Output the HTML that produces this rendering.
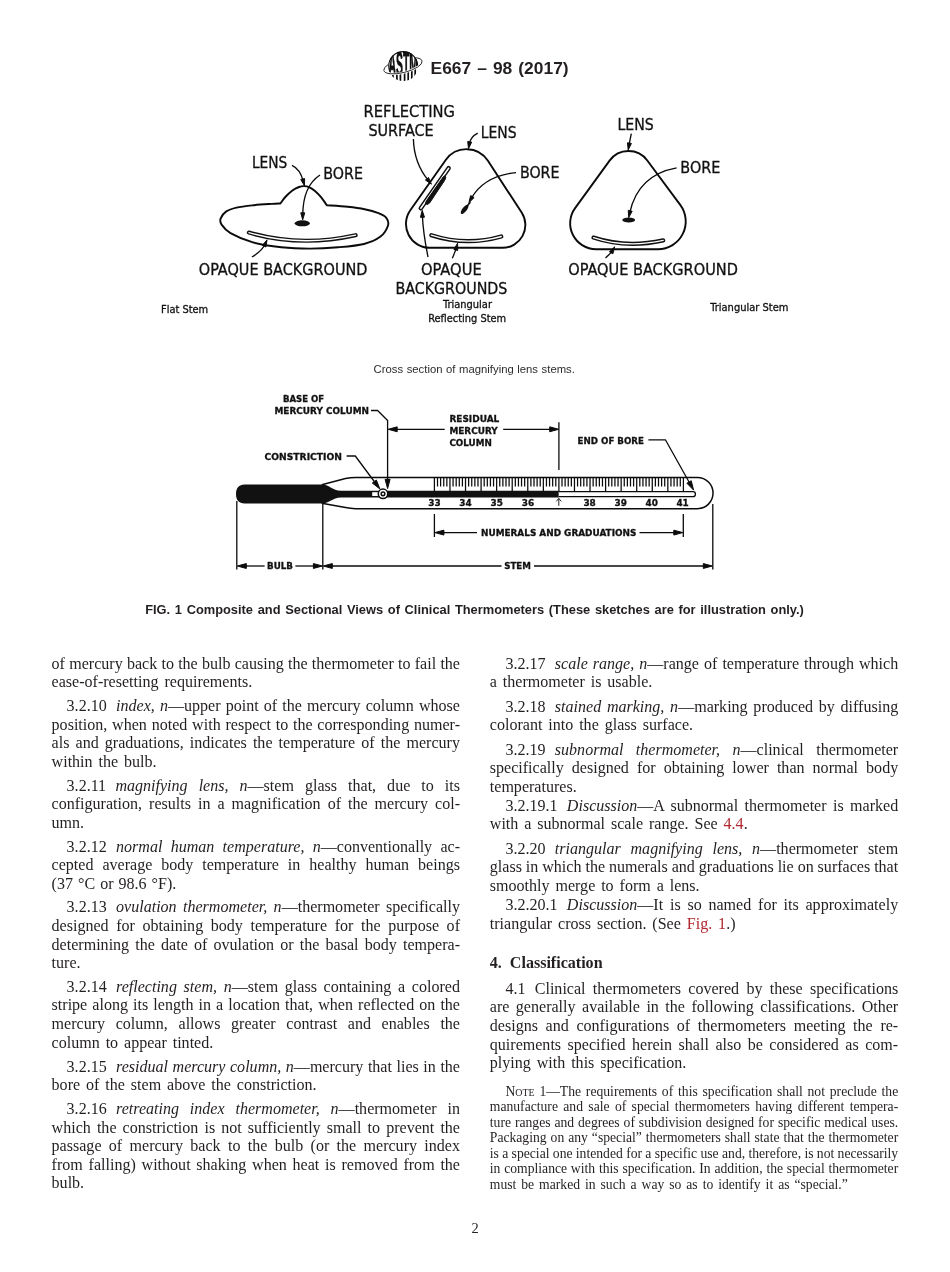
<!DOCTYPE html>
<html lang="en"><head><meta charset="utf-8"><title>E667 – 98 (2017)</title>
<style>
html,body{margin:0;padding:0;background:#fff;}
body{width:950px;height:1272px;position:relative;overflow:hidden;font-family:"Liberation Serif",serif;color:#231f20;}
#pg{position:absolute;left:0;top:0;width:950px;height:1272px;will-change:transform;}
.l{position:absolute;white-space:nowrap;}
.b{font-size:16.06px;line-height:19px;}
.n{font-size:13.65px;line-height:15px;}
.sc{font-size:0.73em;}
.g{display:inline-block;width:9.3px;}
.l a{color:#b0282e;text-decoration:none;}
.h{position:absolute;white-space:nowrap;font-family:"Liberation Sans",sans-serif;font-weight:bold;}
.s{position:absolute;white-space:nowrap;font-family:"Liberation Sans",sans-serif;}
svg{position:absolute;left:0;top:0;}
svg text{font-family:"DejaVu Sans Condensed","DejaVu Sans",sans-serif;fill:#111;stroke:#111;stroke-width:0.3px;}
svg .tb{font-family:"DejaVu Sans","Liberation Sans",sans-serif;font-weight:bold;}
</style></head><body>
<div id="pg">
<svg width="950" height="1272" viewBox="0 0 950 1272" fill="#0b0b0b" stroke="#0b0b0b" stroke-linejoin="round">
<defs><clipPath id="gl"><circle cx="403.2" cy="66.1" r="14.9"/></clipPath><clipPath id="up"><ellipse cx="402.95" cy="65.75" rx="19.7" ry="6.8" transform="rotate(-14 402.95 65.75)"/><path d="M370 73.96 L440 56.51 L440 30 L370 30Z"/></clipPath><clipPath id="fr"><path d="M370 73.96 L440 56.51 L440 95 L370 95Z"/></clipPath></defs>
<ellipse cx="402.95" cy="65.75" rx="19.7" ry="6.8" transform="rotate(-14 402.95 65.75)" fill="none" stroke-width="0.8"/>
<circle cx="403.2" cy="66.1" r="15.2" fill="#fff" stroke="none"/>
<g clip-path="url(#gl)">
<path d="M392.9 62V82M396.9 62V82M400.4 62V82M404.6 62V82M408.2 62V82M411.8 62V82M415.2 62V82" stroke-width="1.7" fill="none"/>
<g clip-path="url(#up)"><rect x="380" y="45" width="46" height="40" fill="#fff" stroke="none"/>
<text x="0" y="0" font-size="12" textLength="29.6" lengthAdjust="spacingAndGlyphs" transform="translate(388.4 75.8) scale(1 2.95)" stroke-width="0.2" style="font-family:'Liberation Sans',sans-serif;font-weight:bold" >ASTM</text>
</g></g>
<g clip-path="url(#up)"><circle cx="403.2" cy="66.1" r="14.5" fill="none" stroke-width="1.1"/></g>
<g clip-path="url(#fr)"><ellipse cx="402.95" cy="65.75" rx="19.7" ry="6.8" transform="rotate(-14 402.95 65.75)" fill="none" stroke="#fff" stroke-width="2.4"/><ellipse cx="402.95" cy="65.75" rx="19.7" ry="6.8" transform="rotate(-14 402.95 65.75)" fill="none" stroke-width="0.8"/></g>
<path d="M280.40 203.50 C281.22 202.42 283.30 199.18 285.30 197.00 C287.30 194.82 290.12 192.07 292.40 190.40 C294.68 188.73 297.07 187.72 299.00 187.00 C300.93 186.28 302.25 186.05 304.00 186.10 C305.75 186.15 307.67 186.48 309.50 187.30 C311.33 188.12 313.08 189.35 315.00 191.00 C316.92 192.65 319.03 194.82 321.00 197.20 C322.97 199.58 325.83 203.95 326.80 205.30 L326.80 205.30 C330.27 205.55 341.30 206.15 347.60 206.80 C353.90 207.45 359.45 208.13 364.60 209.20 C369.75 210.27 374.88 211.77 378.50 213.20 C382.12 214.63 384.72 215.75 386.30 217.80 C387.88 219.85 388.97 222.37 388.00 225.50 C387.03 228.63 384.50 233.52 380.50 236.60 C376.50 239.68 371.05 242.22 364.00 244.00 C356.95 245.78 347.25 246.53 338.20 247.30 C329.15 248.07 319.18 248.62 309.70 248.60 C300.22 248.58 290.77 248.23 281.30 247.20 C271.83 246.17 261.37 244.73 252.90 242.40 C244.43 240.07 235.72 236.17 230.50 233.20 C225.28 230.23 223.25 227.03 221.60 224.60 C219.95 222.17 219.87 220.77 220.60 218.60 C221.33 216.43 223.35 213.43 226.00 211.60 C228.65 209.77 232.02 208.65 236.50 207.60 C240.98 206.55 247.02 205.92 252.90 205.30 C258.78 204.68 267.22 204.20 271.80 203.90 C276.38 203.60 278.97 203.57 280.40 203.50Z" fill="none" stroke-width="1.9"/>
<ellipse cx="302.3" cy="223.3" rx="7.6" ry="3.0" fill="#111" stroke="none"/>
<path d="M248.90 232.60 Q300.00 247.50 355.60 235.20" fill="none" stroke="#111" stroke-width="4.20" stroke-linecap="round"/><path d="M248.90 232.60 Q300.00 247.50 355.60 235.20" fill="none" stroke="#fff" stroke-width="1.30" stroke-linecap="round"/>
<text x="251.90" y="168.00" font-size="15.90" textLength="35.40" lengthAdjust="spacingAndGlyphs">LENS</text>
<text x="323.30" y="178.70" font-size="15.90" textLength="39.60" lengthAdjust="spacingAndGlyphs">BORE</text>
<text x="198.80" y="274.80" font-size="15.90" textLength="168.70" lengthAdjust="spacingAndGlyphs">OPAQUE BACKGROUND</text>
<path d="M292.00 165.40 Q300.00 169.00 303.23 181.07" fill="none" stroke-width="1.35"/><polygon points="304.50,185.80 300.76,179.56 304.62,178.52"/>
<path d="M320.00 175.00 Q303.00 186.00 302.74 214.90" fill="none" stroke-width="1.35"/><polygon points="302.70,219.80 300.76,212.78 304.76,212.82"/>
<path d="M251.90 257.00 Q262.00 251.00 265.00 244.27" fill="none" stroke-width="1.35"/><polygon points="267.00,239.80 265.97,247.01 262.32,245.38"/>
<text x="161.00" y="313.20" font-size="10.90" textLength="47.20" lengthAdjust="spacingAndGlyphs">Flat Stem</text>
<path d="M445.72 159.99 A25.50 25.50 0 0 1 487.94 160.76 L521.66 212.56 A22.80 22.80 0 0 1 502.55 247.80 L429.76 247.80 A23.80 23.80 0 0 1 410.30 210.30Z" fill="none" stroke-width="1.9"/>
<path d="M448.6 168.2 L420.8 208.2" fill="none" stroke="#111" stroke-width="4.5" stroke-linecap="round"/><path d="M448.6 168.2 L420.8 208.2" fill="none" stroke="#fff" stroke-width="1.5" stroke-linecap="round"/>
<path d="M445.3 176.2 Q446.6 177.2 444.4 180.8 L429.6 203 Q427.4 205.4 425.6 203.8 Q425.2 203 426.6 200.6 L443.4 176.6 Q444.5 175.6 445.3 176.2Z" fill="#111" stroke="#111" stroke-width="1.0" stroke-linejoin="round"/>
<ellipse cx="464.6" cy="209.3" rx="5.6" ry="2.2" transform="rotate(-52 464.6 209.3)" fill="#111" stroke="none"/>
<path d="M466 207.5 L470 202.5" stroke-width="1.6" stroke-linecap="round"/>
<path d="M431.30 235.20 Q466.00 246.50 501.30 236.50" fill="none" stroke="#111" stroke-width="4.20" stroke-linecap="round"/><path d="M431.30 235.20 Q466.00 246.50 501.30 236.50" fill="none" stroke="#fff" stroke-width="1.30" stroke-linecap="round"/>
<text x="363.60" y="116.50" font-size="15.90" textLength="91.40" lengthAdjust="spacingAndGlyphs">REFLECTING</text>
<text x="368.40" y="136.00" font-size="15.90" textLength="65.30" lengthAdjust="spacingAndGlyphs">SURFACE</text>
<text x="480.80" y="137.80" font-size="15.90" textLength="35.80" lengthAdjust="spacingAndGlyphs">LENS</text>
<text x="519.90" y="177.90" font-size="15.90" textLength="39.60" lengthAdjust="spacingAndGlyphs">BORE</text>
<text x="421.00" y="274.50" font-size="15.90" textLength="60.70" lengthAdjust="spacingAndGlyphs">OPAQUE</text>
<text x="395.50" y="293.70" font-size="15.90" textLength="111.90" lengthAdjust="spacingAndGlyphs">BACKGROUNDS</text>
<text x="443.00" y="307.60" font-size="10.90" textLength="49.00" lengthAdjust="spacingAndGlyphs">Triangular</text>
<text x="428.20" y="321.50" font-size="10.90" textLength="78.00" lengthAdjust="spacingAndGlyphs">Reflecting Stem</text>
<path d="M413.40 139.00 Q414.00 163.00 428.29 180.41" fill="none" stroke-width="1.35"/><polygon points="431.40,184.20 425.41,180.06 428.50,177.52"/>
<path d="M477.70 133.20 Q470.50 137.00 469.33 143.87" fill="none" stroke-width="1.35"/><polygon points="468.50,148.70 467.71,141.46 471.65,142.14"/>
<path d="M516.00 172.60 Q484.00 176.00 471.31 198.43" fill="none" stroke-width="1.35"/><polygon points="468.90,202.70 470.61,195.62 474.09,197.59"/>
<path d="M428.00 257.00 Q423.00 232.00 422.38 215.20" fill="none" stroke-width="1.35"/><polygon points="422.20,210.30 424.46,217.22 420.46,217.37"/>
<path d="M452.30 258.30 Q455.50 251.00 456.33 247.93" fill="none" stroke-width="1.35"/><polygon points="457.60,243.20 457.71,250.48 453.85,249.44"/>
<path d="M609.58 160.65 A23.40 23.40 0 0 1 647.29 160.46 L680.24 204.82 A27.80 27.80 0 0 1 657.92 249.20 L596.05 249.20 A25.90 25.90 0 0 1 575.10 208.07Z" fill="none" stroke-width="1.9"/>
<ellipse cx="628.7" cy="220.1" rx="6.4" ry="2.5" fill="#111" stroke="none"/>
<path d="M593.50 237.60 Q626.00 248.50 663.20 240.40" fill="none" stroke="#111" stroke-width="4.20" stroke-linecap="round"/><path d="M593.50 237.60 Q626.00 248.50 663.20 240.40" fill="none" stroke="#fff" stroke-width="1.30" stroke-linecap="round"/>
<text x="617.40" y="130.30" font-size="15.90" textLength="36.30" lengthAdjust="spacingAndGlyphs">LENS</text>
<text x="680.30" y="172.90" font-size="15.90" textLength="40.00" lengthAdjust="spacingAndGlyphs">BORE</text>
<text x="568.20" y="274.50" font-size="15.90" textLength="169.70" lengthAdjust="spacingAndGlyphs">OPAQUE BACKGROUND</text>
<text x="710.30" y="310.50" font-size="10.90" textLength="78.10" lengthAdjust="spacingAndGlyphs">Triangular Stem</text>
<path d="M631.30 133.70 Q630.00 140.00 629.07 145.18" fill="none" stroke-width="1.35"/><polygon points="628.20,150.00 627.47,142.76 631.41,143.47"/>
<path d="M676.60 167.90 Q638.00 175.00 629.75 212.81" fill="none" stroke-width="1.35"/><polygon points="628.70,217.60 628.24,210.33 632.15,211.19"/>
<path d="M605.50 257.90 Q611.00 253.00 612.19 251.01" fill="none" stroke-width="1.35"/><polygon points="614.70,246.80 612.83,253.84 609.40,251.79"/>
<path d="M244.5 484.50 H321.8 C330 484.50 332 490.80 341 490.80 H558.8 V497.50 H341 C332 497.50 330 503.50 321.8 503.50 H244.5 C239 503.50 236 500 236 494.00 C236 488 239 484.50 244.5 484.50Z" fill="#111" stroke="none"/>
<path d="M321.8 484.7 L345.5 478.6 Q350.5 477.4 355.5 477.4 H697.4 A15.65 15.65 0 0 1 697.4 508.7 H355.5 Q350.5 508.7 345.5 507.6 L321.8 503.3" fill="none" stroke-width="1.5"/>
<path d="M558.8 491.7 H693 A2.45 2.45 0 0 1 693 496.6 H558.8" fill="#fff" stroke-width="1.3"/>
<rect x="372.2" y="492.2" width="6.6" height="3.8" fill="#fff" stroke="none"/>
<circle cx="383" cy="493.8" r="4.75" fill="#fff" stroke-width="1.5"/>
<circle cx="383" cy="493.8" r="1.85" fill="#fff" stroke-width="1.45"/>
<path d="M434.40 477.6V491.4M437.51 477.8V486.4M440.62 477.8V486.4M443.74 477.8V486.4M446.85 477.8V486.4M449.96 477.6V491.4M453.07 477.8V486.4M456.19 477.8V486.4M459.30 477.8V486.4M462.41 477.8V486.4M465.52 477.6V491.4M468.64 477.8V486.4M471.75 477.8V486.4M474.86 477.8V486.4M477.97 477.8V486.4M481.09 477.6V491.4M484.20 477.8V486.4M487.31 477.8V486.4M490.42 477.8V486.4M493.54 477.8V486.4M496.65 477.6V491.4M499.76 477.8V486.4M502.88 477.8V486.4M505.99 477.8V486.4M509.10 477.8V486.4M512.21 477.6V491.4M515.32 477.8V486.4M518.44 477.8V486.4M521.55 477.8V486.4M524.66 477.8V486.4M527.77 477.6V491.4M530.89 477.8V486.4M534.00 477.8V486.4M537.11 477.8V486.4M540.22 477.8V486.4M543.34 477.6V491.4M546.45 477.8V486.4M549.56 477.8V486.4M552.67 477.8V486.4M555.79 477.8V486.4M558.90 477.6V491.4M562.01 477.8V486.4M565.12 477.8V486.4M568.24 477.8V486.4M571.35 477.8V486.4M574.46 477.6V491.4M577.57 477.8V486.4M580.69 477.8V486.4M583.80 477.8V486.4M586.91 477.8V486.4M590.02 477.6V491.4M593.14 477.8V486.4M596.25 477.8V486.4M599.36 477.8V486.4M602.47 477.8V486.4M605.59 477.6V491.4M608.70 477.8V486.4M611.81 477.8V486.4M614.92 477.8V486.4M618.04 477.8V486.4M621.15 477.6V491.4M624.26 477.8V486.4M627.38 477.8V486.4M630.49 477.8V486.4M633.60 477.8V486.4M636.71 477.6V491.4M639.82 477.8V486.4M642.94 477.8V486.4M646.05 477.8V486.4M649.16 477.8V486.4M652.27 477.6V491.4M655.39 477.8V486.4M658.50 477.8V486.4M661.61 477.8V486.4M664.72 477.8V486.4M667.84 477.6V491.4M670.95 477.8V486.4M674.06 477.8V486.4M677.17 477.8V486.4M680.29 477.8V486.4M683.40 477.6V491.4" stroke-width="1.25" fill="none"/>
<text x="428.30" y="506.40" font-size="9.40" textLength="12.40" lengthAdjust="spacingAndGlyphs" class="tb">33</text>
<text x="459.30" y="506.40" font-size="9.40" textLength="12.40" lengthAdjust="spacingAndGlyphs" class="tb">34</text>
<text x="490.50" y="506.40" font-size="9.40" textLength="12.40" lengthAdjust="spacingAndGlyphs" class="tb">35</text>
<text x="521.80" y="506.40" font-size="9.40" textLength="12.40" lengthAdjust="spacingAndGlyphs" class="tb">36</text>
<text x="583.40" y="506.40" font-size="9.40" textLength="12.40" lengthAdjust="spacingAndGlyphs" class="tb">38</text>
<text x="614.50" y="506.40" font-size="9.40" textLength="12.40" lengthAdjust="spacingAndGlyphs" class="tb">39</text>
<text x="645.50" y="506.40" font-size="9.40" textLength="12.40" lengthAdjust="spacingAndGlyphs" class="tb">40</text>
<text x="676.40" y="506.40" font-size="9.40" textLength="12.40" lengthAdjust="spacingAndGlyphs" class="tb">41</text>
<path d="M558.8 505.8V498.6M556.3 501.4L558.8 498.4L561.3 501.4" fill="none" stroke-width="0.9"/>
<text x="282.90" y="402.30" font-size="8.90" textLength="41.30" lengthAdjust="spacingAndGlyphs" class="tb">BASE OF</text>
<text x="274.50" y="414.00" font-size="8.90" textLength="94.50" lengthAdjust="spacingAndGlyphs" class="tb">MERCURY COLUMN</text>
<text x="264.50" y="459.70" font-size="8.90" textLength="77.50" lengthAdjust="spacingAndGlyphs" class="tb">CONSTRICTION</text>
<text x="449.40" y="421.90" font-size="8.90" textLength="49.90" lengthAdjust="spacingAndGlyphs" class="tb">RESIDUAL</text>
<text x="449.40" y="433.70" font-size="8.90" textLength="48.30" lengthAdjust="spacingAndGlyphs" class="tb">MERCURY</text>
<text x="449.40" y="445.60" font-size="8.90" textLength="42.40" lengthAdjust="spacingAndGlyphs" class="tb">COLUMN</text>
<text x="577.60" y="444.00" font-size="8.90" textLength="66.40" lengthAdjust="spacingAndGlyphs" class="tb">END OF BORE</text>
<text x="481.00" y="535.50" font-size="8.90" textLength="155.30" lengthAdjust="spacingAndGlyphs" class="tb">NUMERALS AND GRADUATIONS</text>
<text x="267.00" y="569.20" font-size="8.90" textLength="25.90" lengthAdjust="spacingAndGlyphs" class="tb">BULB</text>
<text x="504.20" y="569.20" font-size="8.90" textLength="26.70" lengthAdjust="spacingAndGlyphs" class="tb">STEM</text>
<path d="M371 410.5 H377.6 L387.6 420.5 V483" fill="none" stroke-width="1.3"/><polygon points="387.60,488.60 385.10,479.30 390.10,479.30"/>
<path d="M346.6 456 H355.3 L376.5 484.5" fill="none" stroke-width="1.3"/><polygon points="379.90,489.00 372.34,483.03 376.36,480.05"/>
<path d="M648.4 439.8 H665.4 L691 485.5" fill="none" stroke-width="1.3"/><polygon points="693.60,490.10 686.87,483.21 691.24,480.76"/>
<path d="M444.70 429.30 H393.60" stroke-width="1.30"/><polygon points="388.20,429.30 397.20,426.85 397.20,431.75"/>
<path d="M503.20 429.30 H553.30" stroke-width="1.30"/><polygon points="558.70,429.30 549.70,431.75 549.70,426.85"/>
<path d="M558.9 422.2V470" stroke-width="1.3"/>
<path d="M434.4 514V537M683.3 514V537" stroke-width="1.3"/>
<path d="M477.00 532.60 H440.30" stroke-width="1.30"/><polygon points="434.90,532.60 443.90,530.15 443.90,535.05"/>
<path d="M639.50 532.60 H677.40" stroke-width="1.30"/><polygon points="682.80,532.60 673.80,535.05 673.80,530.15"/>
<path d="M236.8 501V569.5M322.8 504V569.5M712.8 504V569.5" stroke-width="1.3"/>
<path d="M264.60 566.00 H242.70" stroke-width="1.30"/><polygon points="237.30,566.00 246.30,563.55 246.30,568.45"/>
<path d="M295.40 566.00 H317.00" stroke-width="1.30"/><polygon points="322.40,566.00 313.40,568.45 313.40,563.55"/>
<path d="M501.50 566.00 H328.70" stroke-width="1.30"/><polygon points="323.30,566.00 332.30,563.55 332.30,568.45"/>
<path d="M534.00 566.00 H706.90" stroke-width="1.30"/><polygon points="712.30,566.00 703.30,568.45 703.30,563.55"/>
</svg>
<div class="h" id="hdr" style="left:430.6px;top:58.00px;font-size:17.4px;line-height:20px;word-spacing:1.2px;">E667 – 98 (2017)</div>
<div class="s" id="cs" style="left:373.6px;top:363.40px;font-size:11.3px;line-height:13px;color:#2b2b2b;word-spacing:0.45px;">Cross section of magnifying lens stems.</div>
<div class="h" id="cap" style="left:145.2px;top:602.00px;font-size:12.85px;line-height:15px;word-spacing:1.1px;">FIG. 1 Composite and Sectional Views of Clinical Thermometers (These sketches are for illustration only.)</div>
<div class="l b" id="h4" style="left:489.80px;top:953.00px;font-weight:bold;">4.&nbsp; Classification</div>
<div class="l" id="pn" style="left:471.5px;top:1220px;font-size:14.45px;line-height:16px;">2</div>
<div class="l b" id="l0" style="left:51.60px;top:654.00px;word-spacing:0.224px;">of mercury back to the bulb causing the thermometer to fail the</div>
<div class="l b" id="l1" style="left:51.60px;top:672.00px;word-spacing:1.90px;">ease-of-resetting requirements.</div>
<div class="l b" id="l2" style="left:66.60px;top:696.00px;word-spacing:1.137px;">3.2.10<span class="g"></span><i>index, n</i>—upper point of the mercury column whose</div>
<div class="l b" id="l3" style="left:51.60px;top:715.00px;word-spacing:0.786px;">position, when noted with respect to the corresponding numer-</div>
<div class="l b" id="l4" style="left:51.60px;top:733.00px;word-spacing:2.091px;">als and graduations, indicates the temperature of the mercury</div>
<div class="l b" id="l5" style="left:51.60px;top:752.00px;word-spacing:1.90px;">within the bulb.</div>
<div class="l b" id="l6" style="left:66.60px;top:776.00px;word-spacing:7.006px;">3.2.11<span class="g"></span><i>magnifying lens, n</i>—stem glass that, due to its</div>
<div class="l b" id="l7" style="left:51.60px;top:794.00px;word-spacing:2.980px;">configuration, results in a magnification of the mercury col-</div>
<div class="l b" id="l8" style="left:51.60px;top:813.00px;word-spacing:1.90px;">umn.</div>
<div class="l b" id="l9" style="left:66.60px;top:837.00px;word-spacing:4.252px;">3.2.12<span class="g"></span><i>normal human temperature, n</i>—conventionally ac-</div>
<div class="l b" id="l10" style="left:51.60px;top:855.00px;word-spacing:4.937px;">cepted average body temperature in healthy human beings</div>
<div class="l b" id="l11" style="left:51.60px;top:874.00px;word-spacing:1.0px;">(37 °C or 98.6 °F).</div>
<div class="l b" id="l12" style="left:66.60px;top:897.00px;word-spacing:2.362px;">3.2.13<span class="g"></span><i>ovulation thermometer, n</i>—thermometer specifically</div>
<div class="l b" id="l13" style="left:51.60px;top:916.00px;word-spacing:3.591px;">designed for obtaining body temperature for the purpose of</div>
<div class="l b" id="l14" style="left:51.60px;top:935.00px;word-spacing:2.154px;">determining the date of ovulation or the basal body tempera-</div>
<div class="l b" id="l15" style="left:51.60px;top:953.00px;word-spacing:1.90px;">ture.</div>
<div class="l b" id="l16" style="left:66.60px;top:977.00px;word-spacing:2.686px;">3.2.14<span class="g"></span><i>reflecting stem, n</i>—stem glass containing a colored</div>
<div class="l b" id="l17" style="left:51.60px;top:995.00px;word-spacing:1.072px;">stripe along its length in a location that, when reflected on the</div>
<div class="l b" id="l18" style="left:51.60px;top:1014.00px;word-spacing:6.655px;">mercury column, allows greater contrast and enables the</div>
<div class="l b" id="l19" style="left:51.60px;top:1033.00px;word-spacing:1.90px;">column to appear tinted.</div>
<div class="l b" id="l20" style="left:66.60px;top:1057.00px;word-spacing:0.542px;">3.2.15<span class="g"></span><i>residual mercury column, n</i>—mercury that lies in the</div>
<div class="l b" id="l21" style="left:51.60px;top:1075.00px;word-spacing:1.90px;">bore of the stem above the constriction.</div>
<div class="l b" id="l22" style="left:66.60px;top:1099.00px;word-spacing:6.854px;">3.2.16<span class="g"></span><i>retreating index thermometer, n</i>—thermometer in</div>
<div class="l b" id="l23" style="left:51.60px;top:1118.00px;word-spacing:2.083px;">which the constriction is not sufficiently small to prevent the</div>
<div class="l b" id="l24" style="left:51.60px;top:1136.00px;word-spacing:3.321px;">passage of mercury back to the bulb (or the mercury index</div>
<div class="l b" id="l25" style="left:51.60px;top:1155.00px;word-spacing:1.755px;">from falling) without shaking when heat is removed from the</div>
<div class="l b" id="l26" style="left:51.60px;top:1173.00px;word-spacing:1.90px;">bulb.</div>
<div class="l b" id="l27" style="left:505.40px;top:654.00px;word-spacing:1.008px;">3.2.17<span class="g"></span><i>scale range, n</i>—range of temperature through which</div>
<div class="l b" id="l28" style="left:489.80px;top:672.00px;word-spacing:1.90px;">a thermometer is usable.</div>
<div class="l b" id="l29" style="left:505.40px;top:697.00px;word-spacing:1.701px;">3.2.18<span class="g"></span><i>stained marking, n</i>—marking produced by diffusing</div>
<div class="l b" id="l30" style="left:489.80px;top:715.00px;word-spacing:1.90px;">colorant into the glass surface.</div>
<div class="l b" id="l31" style="left:505.40px;top:740.00px;word-spacing:8.392px;">3.2.19<span class="g"></span><i>subnormal thermometer, n</i>—clinical thermometer</div>
<div class="l b" id="l32" style="left:489.80px;top:758.00px;word-spacing:4.039px;">specifically designed for obtaining lower than normal body</div>
<div class="l b" id="l33" style="left:489.80px;top:777.00px;word-spacing:1.90px;">temperatures.</div>
<div class="l b" id="l34" style="left:505.40px;top:796.00px;word-spacing:2.391px;">3.2.19.1<span class="g"></span><i>Discussion</i>—A subnormal thermometer is marked</div>
<div class="l b" id="l35" style="left:489.80px;top:814.00px;word-spacing:1.90px;">with a subnormal scale range. See <a>4.4</a>.</div>
<div class="l b" id="l36" style="left:505.40px;top:839.00px;word-spacing:5.727px;">3.2.20<span class="g"></span><i>triangular magnifying lens, n</i>—thermometer stem</div>
<div class="l b" id="l37" style="left:489.80px;top:857.00px;word-spacing:-0.069px;">glass in which the numerals and graduations lie on surfaces that</div>
<div class="l b" id="l38" style="left:489.80px;top:876.00px;word-spacing:1.90px;">smoothly merge to form a lens.</div>
<div class="l b" id="l39" style="left:505.40px;top:895.00px;word-spacing:2.779px;">3.2.20.1<span class="g"></span><i>Discussion</i>—It is so named for its approximately</div>
<div class="l b" id="l40" style="left:489.80px;top:914.00px;word-spacing:1.90px;">triangular cross section. (See <a>Fig. 1</a>.)</div>
<div class="l b" id="l41" style="left:505.40px;top:979.00px;word-spacing:3.263px;">4.1<span class="g"></span>Clinical thermometers covered by these specifications</div>
<div class="l b" id="l42" style="left:489.80px;top:997.00px;word-spacing:2.452px;">are generally available in the following classifications. Other</div>
<div class="l b" id="l43" style="left:489.80px;top:1016.00px;word-spacing:3.658px;">designs and configurations of thermometers meeting the re-</div>
<div class="l b" id="l44" style="left:489.80px;top:1035.00px;word-spacing:2.480px;">quirements specified herein shall also be considered as com-</div>
<div class="l b" id="l45" style="left:489.80px;top:1053.00px;word-spacing:1.90px;">plying with this specification.</div>
<div class="l n" id="l46" style="left:505.40px;top:1084.00px;word-spacing:1.382px;">N<span class=sc>OTE</span> 1—The requirements of this specification shall not preclude the</div>
<div class="l n" id="l47" style="left:489.80px;top:1099.00px;word-spacing:1.939px;">manufacture and sale of special thermometers having different tempera-</div>
<div class="l n" id="l48" style="left:489.80px;top:1115.00px;word-spacing:0.498px;">ture ranges and degrees of subdivision designed for specific medical uses.</div>
<div class="l n" id="l49" style="left:489.80px;top:1130.00px;word-spacing:0.555px;">Packaging on any “special” thermometers shall state that the thermometer</div>
<div class="l n" id="l50" style="left:489.80px;top:1146.00px;word-spacing:-0.081px;">is a special one intended for a specific use and, therefore, is not necessarily</div>
<div class="l n" id="l51" style="left:489.80px;top:1161.00px;word-spacing:0.385px;">in compliance with this specification. In addition, the special thermometer</div>
<div class="l n" id="l52" style="left:489.80px;top:1177.00px;word-spacing:1.55px;">must be marked in such a way so as to identify it as “special.”</div>
</div>
</body></html>
